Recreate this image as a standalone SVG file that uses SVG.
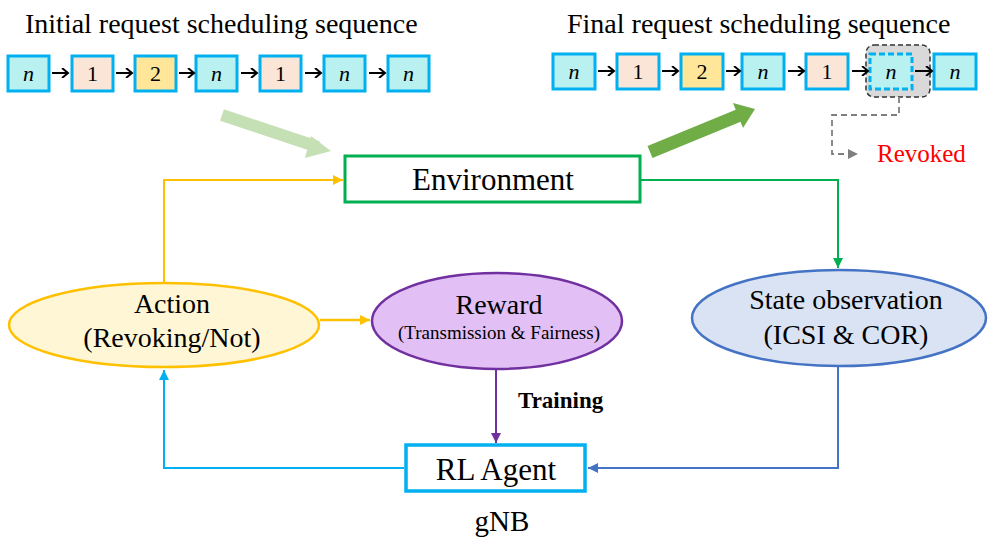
<svg xmlns="http://www.w3.org/2000/svg" width="993" height="547" viewBox="0 0 993 547">
<style>
text{font-family:"Liberation Serif","Times New Roman",serif;fill:#000}
.t{font-size:28px}
.q{stroke:#00B0F0;stroke-width:3}
.c{fill:#B9F1F1}
.o{fill:#FBE5D6}
.y{fill:#FFE699}
.qt{font-size:22px;text-anchor:middle}
.it{font-style:italic}
.sa{stroke:#000;stroke-width:2;fill:none}
.mid{text-anchor:middle}
</style>
<defs>
<marker id="chev" markerWidth="10" markerHeight="10" refX="8" refY="5" orient="auto" markerUnits="userSpaceOnUse">
<polyline points="2,0 8,5 2,10" fill="none" stroke="#000" stroke-width="2"/>
</marker>
<marker id="ay" markerWidth="12" markerHeight="12" refX="10" refY="6" orient="auto" markerUnits="userSpaceOnUse"><path d="M0,1 L10,6 L0,11 Z" fill="#FFC000"/></marker>
<marker id="ag" markerWidth="12" markerHeight="12" refX="10" refY="6" orient="auto" markerUnits="userSpaceOnUse"><path d="M0,1 L10,6 L0,11 Z" fill="#00B050"/></marker>
<marker id="ap" markerWidth="12" markerHeight="12" refX="10" refY="6" orient="auto" markerUnits="userSpaceOnUse"><path d="M0,1 L10,6 L0,11 Z" fill="#7030A0"/></marker>
<marker id="ac" markerWidth="12" markerHeight="12" refX="10" refY="6" orient="auto" markerUnits="userSpaceOnUse"><path d="M0,1 L10,6 L0,11 Z" fill="#00B0F0"/></marker>
<marker id="ab" markerWidth="12" markerHeight="12" refX="10" refY="6" orient="auto" markerUnits="userSpaceOnUse"><path d="M0,1 L10,6 L0,11 Z" fill="#4472C4"/></marker>
<marker id="agr" markerWidth="12" markerHeight="12" refX="10" refY="6" orient="auto" markerUnits="userSpaceOnUse"><path d="M0,1 L10,6 L0,11 Z" fill="#7F7F7F"/></marker>
</defs>

<g id="initial-sequence">
<text class="t" x="25" y="33">Initial request scheduling sequence</text>
<rect class="q c" x="8" y="56" width="41" height="35"/><text class="qt it" x="28.5" y="81">n</text>
<rect class="q o" x="72" y="56" width="41" height="35"/><text class="qt" x="92.5" y="81">1</text>
<rect class="q y" x="135" y="56" width="41" height="35"/><text class="qt" x="155.5" y="81">2</text>
<rect class="q c" x="196" y="56" width="41" height="35"/><text class="qt it" x="216.5" y="81">n</text>
<rect class="q o" x="260" y="56" width="41" height="35"/><text class="qt" x="280.5" y="81">1</text>
<rect class="q c" x="324" y="56" width="41" height="35"/><text class="qt it" x="344.5" y="81">n</text>
<rect class="q c" x="388" y="56" width="41" height="35"/><text class="qt it" x="408.5" y="81">n</text>
<g class="sa">
<line x1="52" y1="73" x2="68" y2="73" marker-end="url(#chev)"/>
<line x1="116" y1="73" x2="132" y2="73" marker-end="url(#chev)"/>
<line x1="179" y1="73" x2="194" y2="73" marker-end="url(#chev)"/>
<line x1="241" y1="73" x2="257" y2="73" marker-end="url(#chev)"/>
<line x1="305" y1="73" x2="321" y2="73" marker-end="url(#chev)"/>
<line x1="369" y1="73" x2="385" y2="73" marker-end="url(#chev)"/>
</g>
</g>

<g id="final-sequence">
<text class="t" x="567" y="33">Final request scheduling sequence</text>
<rect x="866" y="45" width="64" height="52" rx="8" fill="#D9D9D9" stroke="#333" stroke-width="1.5" stroke-dasharray="5,3"/>
<rect class="q c" x="553" y="54" width="42" height="35"/><text class="qt it" x="574" y="79">n</text>
<rect class="q o" x="617" y="54" width="42" height="35"/><text class="qt" x="638" y="79">1</text>
<rect class="q y" x="681" y="54" width="42" height="35"/><text class="qt" x="702" y="79">2</text>
<rect class="q c" x="742" y="54" width="42" height="35"/><text class="qt it" x="763" y="79">n</text>
<rect class="q o" x="806" y="54" width="42" height="35"/><text class="qt" x="827" y="79">1</text>
<rect class="q c" x="870" y="54" width="42" height="35" stroke-dasharray="6,3"/><text class="qt it" x="891" y="79">n</text>
<rect class="q c" x="934" y="54" width="42" height="35"/><text class="qt it" x="955" y="79">n</text>
<g class="sa">
<line x1="598" y1="71" x2="614" y2="71" marker-end="url(#chev)"/>
<line x1="662" y1="71" x2="678" y2="71" marker-end="url(#chev)"/>
<line x1="726" y1="71" x2="740" y2="71" marker-end="url(#chev)"/>
<line x1="788" y1="71" x2="804" y2="71" marker-end="url(#chev)"/>
<line x1="852" y1="71" x2="868" y2="71" marker-end="url(#chev)"/>
<line x1="915" y1="71" x2="932" y2="71" marker-end="url(#chev)"/>
</g>
<text x="877" y="162" font-size="25" style="fill:#FF0000">Revoked</text>
</g>

<g id="environment">
<rect x="345" y="156" width="295" height="46" fill="#fff" stroke="#00B050" stroke-width="3"/>
<text class="mid" x="493" y="190" font-size="31">Environment</text>
</g>

<g id="action">
<ellipse cx="164" cy="325" rx="155" ry="42" fill="#FFF6D5" stroke="#FFC000" stroke-width="2.5"/>
<text class="mid" x="172" y="313" font-size="28">Action</text>
<text class="mid" x="172" y="347" font-size="28">(Revoking/Not)</text>
</g>

<g id="reward">
<ellipse cx="497" cy="321" rx="125" ry="48" fill="#E2BFF5" stroke="#7030A0" stroke-width="2.5"/>
<text class="mid" x="499" y="314" font-size="28">Reward</text>
<text class="mid" x="499" y="339" font-size="19">(Transmission &amp; Fairness)</text>
</g>

<g id="state-observation">
<ellipse cx="839" cy="318" rx="147" ry="48" fill="#DAE3F3" stroke="#4472C4" stroke-width="2.5"/>
<text class="mid" x="846" y="309" font-size="28">State observation</text>
<text class="mid" x="846" y="344" font-size="28">(ICSI &amp; COR)</text>
</g>

<g id="rl-agent">
<rect x="406" y="445" width="179" height="46" fill="#fff" stroke="#00B0F0" stroke-width="3.5"/>
<text class="mid" x="496" y="480" font-size="31">RL Agent</text>
<text class="mid" x="502" y="531" font-size="29">gNB</text>
</g>

<g id="connectors" fill="none">
<line x1="222" y1="115" x2="318" y2="147" stroke="#C5E0B4" stroke-width="12"/>
<path d="M311,136 L331,151 L305,158 Z" fill="#C5E0B4"/>
<line x1="650" y1="152" x2="740" y2="115" stroke="#70AD47" stroke-width="13"/>
<path d="M733,103 L755,109 L743,128 Z" fill="#70AD47"/>
<path d="M899,97 V115 H832 V154 H858" stroke="#7F7F7F" stroke-width="1.8" stroke-dasharray="6,4" marker-end="url(#agr)"/>
<path d="M164,283 V180 H343" stroke="#FFC000" stroke-width="2" marker-end="url(#ay)"/>
<path d="M641,180 H838 V268" stroke="#00B050" stroke-width="2" marker-end="url(#ag)"/>
<line x1="320" y1="320" x2="370" y2="320" stroke="#FFC000" stroke-width="2.5" marker-end="url(#ay)"/>
<line x1="496" y1="369" x2="496" y2="443" stroke="#7030A0" stroke-width="2" marker-end="url(#ap)"/>
<path d="M404,468 H164 V370" stroke="#00B0F0" stroke-width="2" marker-end="url(#ac)"/>
<path d="M838,366 V468 H588" stroke="#4472C4" stroke-width="2" marker-end="url(#ab)"/>
<text x="518" y="408" font-size="23" font-weight="bold" stroke="none">Training</text>
</g>
</svg>
